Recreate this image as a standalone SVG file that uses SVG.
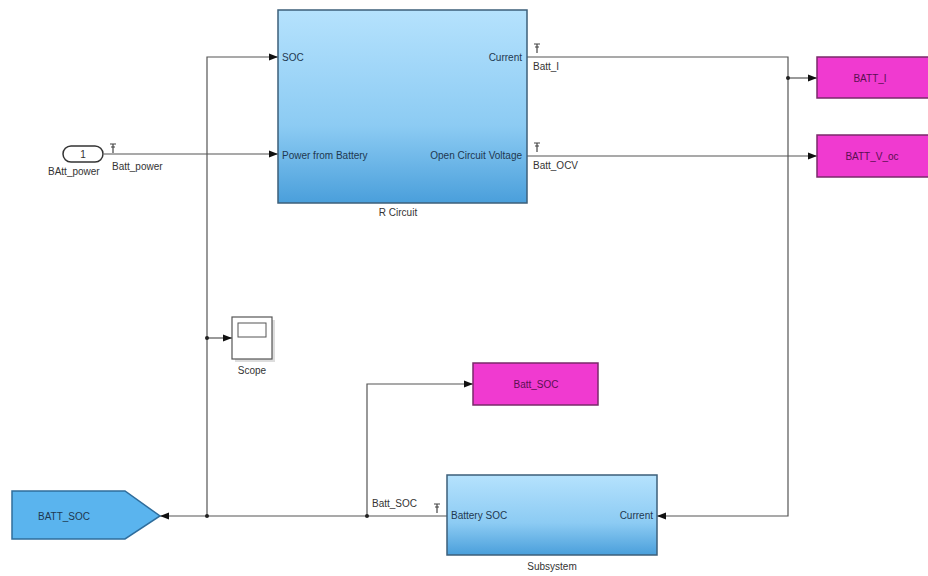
<svg xmlns="http://www.w3.org/2000/svg" width="928" height="576" viewBox="0 0 928 576">
<defs>
<linearGradient id="blu" x1="0" y1="0" x2="0" y2="1">
<stop offset="0" stop-color="#b5e2fd"/>
<stop offset="0.6" stop-color="#8ccbf3"/>
<stop offset="1" stop-color="#4a9fdb"/>
</linearGradient>
<marker id="ar" viewBox="0 0 10 10" refX="10" refY="5" markerWidth="9" markerHeight="9" markerUnits="userSpaceOnUse" orient="auto">
<path d="M0,1 L10,5 L0,9 Z" fill="#111"/>
</marker>
<g id="tp"><path d="M-3,0 H3 M0,0 V9 M-2,3 H2" stroke="#444" stroke-width="1.2" fill="none"/></g>
</defs>
<style>
text{font-family:"Liberation Sans",Arial,sans-serif;font-size:10px;fill:#333}
.blk{fill:url(#blu);stroke:#3d5f7a;stroke-width:1.5}
.mag{fill:#f03ad0;stroke:#7a2a6a;stroke-width:1.5}
.ln{stroke:#555;stroke-width:1.2;fill:none}
.pt{fill:#1e3850}
.dot{fill:#222}
</style>
<rect width="928" height="576" fill="#fff"/>

<g id="connectors">
<path class="ln" d="M104,154 H278" marker-end="url(#ar)"/>
<path class="ln" d="M207,516 V57 H278" marker-end="url(#ar)"/>
<path class="ln" d="M207,338 H232" marker-end="url(#ar)"/>
<path class="ln" d="M527,57 H788 V516 H657" marker-end="url(#ar)"/>
<path class="ln" d="M788,78 H817" marker-end="url(#ar)"/>
<path class="ln" d="M527,156 H817" marker-end="url(#ar)"/>
<path class="ln" d="M447,516 H160" marker-end="url(#ar)"/>
<path class="ln" d="M367,516 V384 H473" marker-end="url(#ar)"/>
<circle class="dot" cx="207" cy="338" r="2"/>
<circle class="dot" cx="207" cy="516" r="2"/>
<circle class="dot" cx="367" cy="516" r="2"/>
<circle class="dot" cx="788" cy="78" r="2"/>
<use href="#tp" x="113" y="144"/>
<use href="#tp" x="537" y="44"/>
<use href="#tp" x="537" y="143"/>
<use href="#tp" x="437" y="504"/>
<text x="112" y="170">Batt_power</text>
<text x="533" y="70">Batt_I</text>
<text x="533" y="169">Batt_OCV</text>
<text x="372" y="507">Batt_SOC</text>
</g>

<g id="inport">
<rect x="63" y="146" width="40" height="16" rx="8" fill="#fff" stroke="#333" stroke-width="1.5"/>
<text x="83" y="158" text-anchor="middle">1</text>
<text x="48" y="175">BAtt_power</text>
</g>

<g id="rcircuit">
<rect class="blk" x="278" y="10" width="249" height="193"/>
<text class="pt" x="282" y="61">SOC</text>
<text class="pt" x="282" y="159">Power from Battery</text>
<text class="pt" x="522" y="61" text-anchor="end">Current</text>
<text class="pt" x="522" y="159" text-anchor="end">Open Circuit Voltage</text>
<text x="398" y="216" text-anchor="middle">R Circuit</text>
</g>

<g id="batt_i">
<rect class="mag" x="817" y="57" width="113" height="41"/>
<text x="870" y="82" text-anchor="middle" fill="#5a1050" style="fill:#5a1050">BATT_I</text>
</g>

<g id="batt_v_oc">
<rect class="mag" x="817" y="135" width="113" height="42"/>
<text x="872" y="160" text-anchor="middle" style="fill:#5a1050">BATT_V_oc</text>
</g>

<g id="scope">
<rect x="235" y="320" width="40" height="42" fill="#ddd"/>
<rect x="232" y="317" width="40" height="42" fill="#fff" stroke="#555" stroke-width="1.2"/>
<rect x="238" y="323" width="28" height="14" fill="#fff" stroke="#555" stroke-width="1"/>
<text x="252" y="374" text-anchor="middle">Scope</text>
</g>

<g id="batt_soc_goto">
<rect class="mag" x="473" y="363" width="125" height="42"/>
<text x="536" y="388" text-anchor="middle" style="fill:#5a1050">Batt_SOC</text>
</g>

<g id="subsystem">
<rect class="blk" x="447" y="475" width="210" height="80"/>
<text class="pt" x="451" y="519">Battery SOC</text>
<text class="pt" x="653" y="519" text-anchor="end">Current</text>
<text x="552" y="570" text-anchor="middle">Subsystem</text>
</g>

<g id="batt_soc_from">
<path d="M12,491 H125 L160,516 L125,539 H12 Z" fill="#5ab4ee" stroke="#2f6d9c" stroke-width="1.5"/>
<text x="64" y="520" text-anchor="middle" style="fill:#1e3850">BATT_SOC</text>
</g>
</svg>
